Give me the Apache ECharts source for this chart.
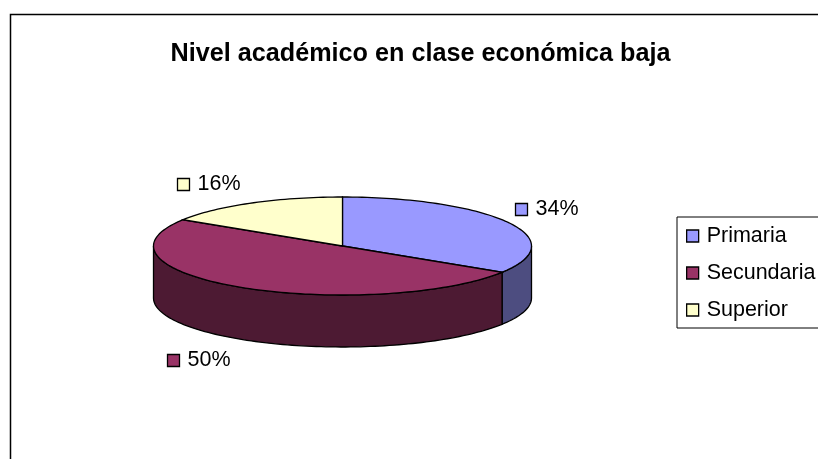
<!DOCTYPE html>
<html>
<head>
<meta charset="utf-8">
<title>Nivel académico en clase económica baja</title>
<style>
  html, body { margin: 0; padding: 0; background: #fff; overflow: hidden; }
  #chart { width: 818px; height: 459px; }
</style>
<script src="https://cdn.jsdelivr.net/npm/echarts@6/dist/echarts.min.js"></script>
</head>
<body>
<div id="chart"></div>
<script>
const chartTitle = 'Nivel académico en clase económica baja';
const categories = ['Primaria', 'Secundaria', 'Superior'];
const values = [34, 50, 16];
const topColors = ['#9999ff', '#993366', '#ffffcc'];
const sideColors = ['#4d4d80', '#4d1a33', '#808066'];

// where each data label's little key sits
const labelSpots = [[515.5, 203.5], [167.5, 354.5], [177.5, 178.5]];

// the pie is tipped over, so a disc centre with two radii and a wall height
const pie = { cx: 342.5, cy: 246, rx: 189, ry: 49, depth: 52 };
const FONT = '"Liberation Sans", Arial, sans-serif';

const total = values.reduce((a, b) => a + b, 0);

// clockwise from 12 o'clock
function rimPoint(deg, drop) {
    const rad = deg * Math.PI / 180;
    return [pie.cx + pie.rx * Math.sin(rad), pie.cy - pie.ry * Math.cos(rad) + (drop || 0)];
}

function arcPoints(from, to, drop) {
    const pts = [];
    const steps = Math.max(2, Math.ceil((to - from) / 1.5));
    for (let i = 0; i <= steps; i++) {
        pts.push(rimPoint(from + (to - from) * i / steps, drop));
    }
    return pts;
}

function makeRenderItem(index) {
    return function (params, api) {
        const start = api.value(0) / total * 360;
        const end = start + api.value(1) / total * 360;
        const border = { stroke: '#000', lineWidth: 1.3 };
        const children = [];

        // only the front half of the rim shows a wall
        const wallFrom = Math.max(start, 90);
        const wallTo = Math.min(end, 270);
        if (wallTo > wallFrom) {
            const points = arcPoints(wallFrom, wallTo, 0).concat(arcPoints(wallFrom, wallTo, pie.depth).reverse());
            children.push({
                type: 'polygon',
                shape: { points: points },
                style: Object.assign({ fill: sideColors[index] }, border)
            });
        }

        children.push({
            type: 'polygon',
            shape: { points: [[pie.cx, pie.cy]].concat(arcPoints(start, end, 0)) },
            style: Object.assign({ fill: topColors[index] }, border)
        });

        const spot = labelSpots[index];
        children.push({
            type: 'rect',
            shape: { x: spot[0], y: spot[1], width: 12, height: 12 },
            style: Object.assign({ fill: topColors[index] }, border)
        });
        children.push({
            type: 'text',
            x: spot[0] + 20,
            y: spot[1] + 6,
            style: {
                text: api.value(1) + '%',
                fill: '#000',
                font: '21.5px ' + FONT,
                verticalAlign: 'middle'
            }
        });

        return { type: 'group', children: children };
    };
}

let running = 0;
const series = categories.map(function (name, i) {
    const item = {
        type: 'custom',
        name: name,
        coordinateSystem: 'none',
        silent: true,
        itemStyle: { color: topColors[i] },
        renderItem: makeRenderItem(i),
        data: [[running, values[i]]]
    };
    running += values[i];
    return item;
});

const chart = echarts.init(document.getElementById('chart'), null, { renderer: 'canvas' });
chart.setOption({
    animation: false,
    backgroundColor: '#fff',
    title: {
        text: chartTitle,
        left: 415.5,
        top: 37,
        textAlign: 'center',
        textStyle: { fontFamily: FONT, fontSize: 25.2, fontWeight: 'bold', color: '#000' }
    },
    legend: {
        orient: 'vertical',
        left: 677,
        top: 217,
        padding: [8, 20, 7, 9],
        itemGap: 15,
        itemWidth: 12,
        itemHeight: 12,
        icon: 'rect',
        selectedMode: false,
        borderColor: '#000',
        borderWidth: 1,
        backgroundColor: '#fff',
        itemStyle: { borderColor: '#000', borderWidth: 1.3 },
        textStyle: { fontFamily: FONT, fontSize: 21.5, color: '#000', padding: [0, 0, 3, 3] },
        data: categories
    },
    graphic: [{
        // chart area frame, runs off the right and bottom of the page
        type: 'rect',
        z: -1,
        silent: true,
        shape: { x: 10.5, y: 14.5, width: 900, height: 500 },
        style: { fill: '#fff', stroke: '#000', lineWidth: 1.5 }
    }],
    series: series
});
</script>
</body>
</html>
